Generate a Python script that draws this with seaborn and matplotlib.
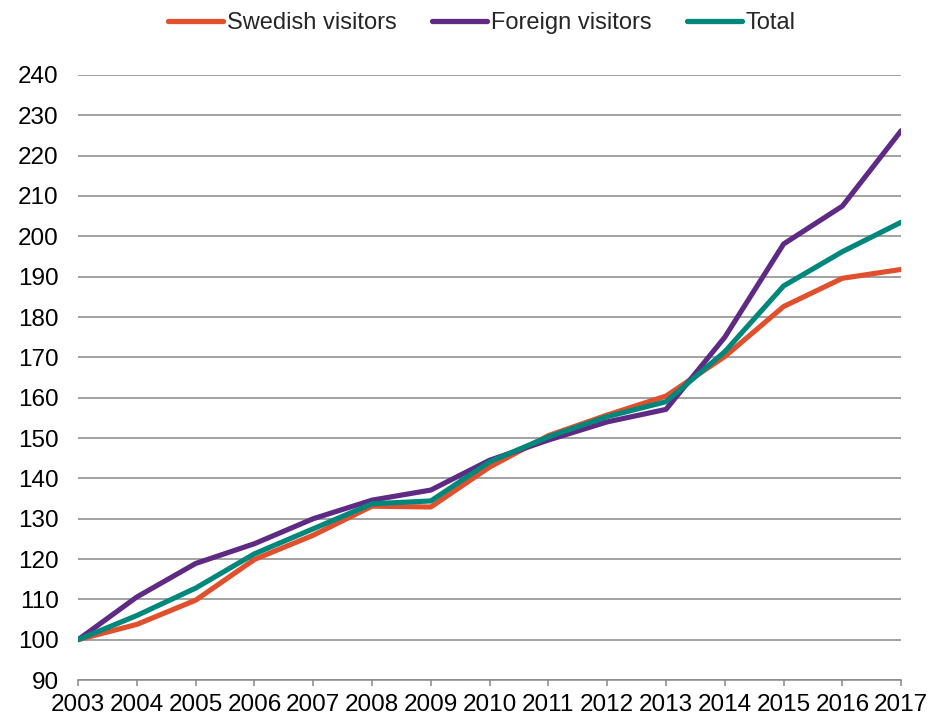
import pandas as pd
import matplotlib
matplotlib.use("Agg")
import matplotlib.pyplot as plt
import seaborn as sns

# index values (2003 = 100)
years = list(range(2003, 2018))
swedish = [100, 103.8, 109.8, 119.9, 125.9, 133.1, 132.9, 142.8,
           150.6, 155.7, 160.4, 170.2, 182.6, 189.6, 191.8]
foreign = [100, 110.6, 118.9, 123.8, 130.0, 134.6, 137.1, 144.5,
           149.5, 154.0, 157.1, 175.0, 198.1, 207.5, 226.2]
total = [100, 106.0, 112.8, 121.3, 127.5, 133.7, 134.4, 144.1,
         150.3, 155.3, 159.0, 171.4, 187.7, 196.2, 203.5]
series_names = ["Swedish visitors", "Foreign visitors", "Total"]
colors = ["#E0502D", "#5E2A84", "#00877B"]
y_ticks = list(range(90, 250, 10))

df = pd.DataFrame({"year": years, series_names[0]: swedish,
                   series_names[1]: foreign, series_names[2]: total})
long_df = df.melt(id_vars="year", var_name="series", value_name="index")

sns.set_style("white")
plt.rcParams["font.family"] = ["Liberation Sans", "DejaVu Sans"]

fig = plt.figure(figsize=(9.3, 7.19), dpi=100)
ax = fig.add_axes([0.084, 0.0542, 0.885, 0.8415])

sns.lineplot(data=long_df, x="year", y="index", hue="series",
             hue_order=series_names, palette=colors, linewidth=3.7,
             ax=ax, legend=False)

ax.set_xlim(2003, 2017)
ax.set_ylim(90, 240)
ax.set_yticks(y_ticks)
ax.set_xticks(years)
ax.set_xlabel("")
ax.set_ylabel("")

ax.yaxis.grid(True, color="#888888", linewidth=1.1)
ax.xaxis.grid(False)
ax.set_axisbelow(True)
for side in ["left", "right", "top"]:
    ax.spines[side].set_visible(False)
ax.spines["bottom"].set_color("#888888")
ax.spines["bottom"].set_linewidth(1.1)

ax.tick_params(axis="y", length=0, pad=14, labelsize=17.5, labelcolor="black")
ax.tick_params(axis="x", length=4, width=1.1, color="#888888", direction="out",
               pad=6, labelsize=17.5, labelcolor="black", bottom=True)

handles = [plt.Line2D([], [], color=c, linewidth=3.8, solid_capstyle="round")
           for c in colors]
fig.legend(handles, series_names, loc="center", bbox_to_anchor=(0.518, 0.968),
           ncol=3, frameon=False, fontsize=17, handlelength=2.33,
           handletextpad=0.17, columnspacing=1.5)

fig.savefig("out.png", dpi=100)
